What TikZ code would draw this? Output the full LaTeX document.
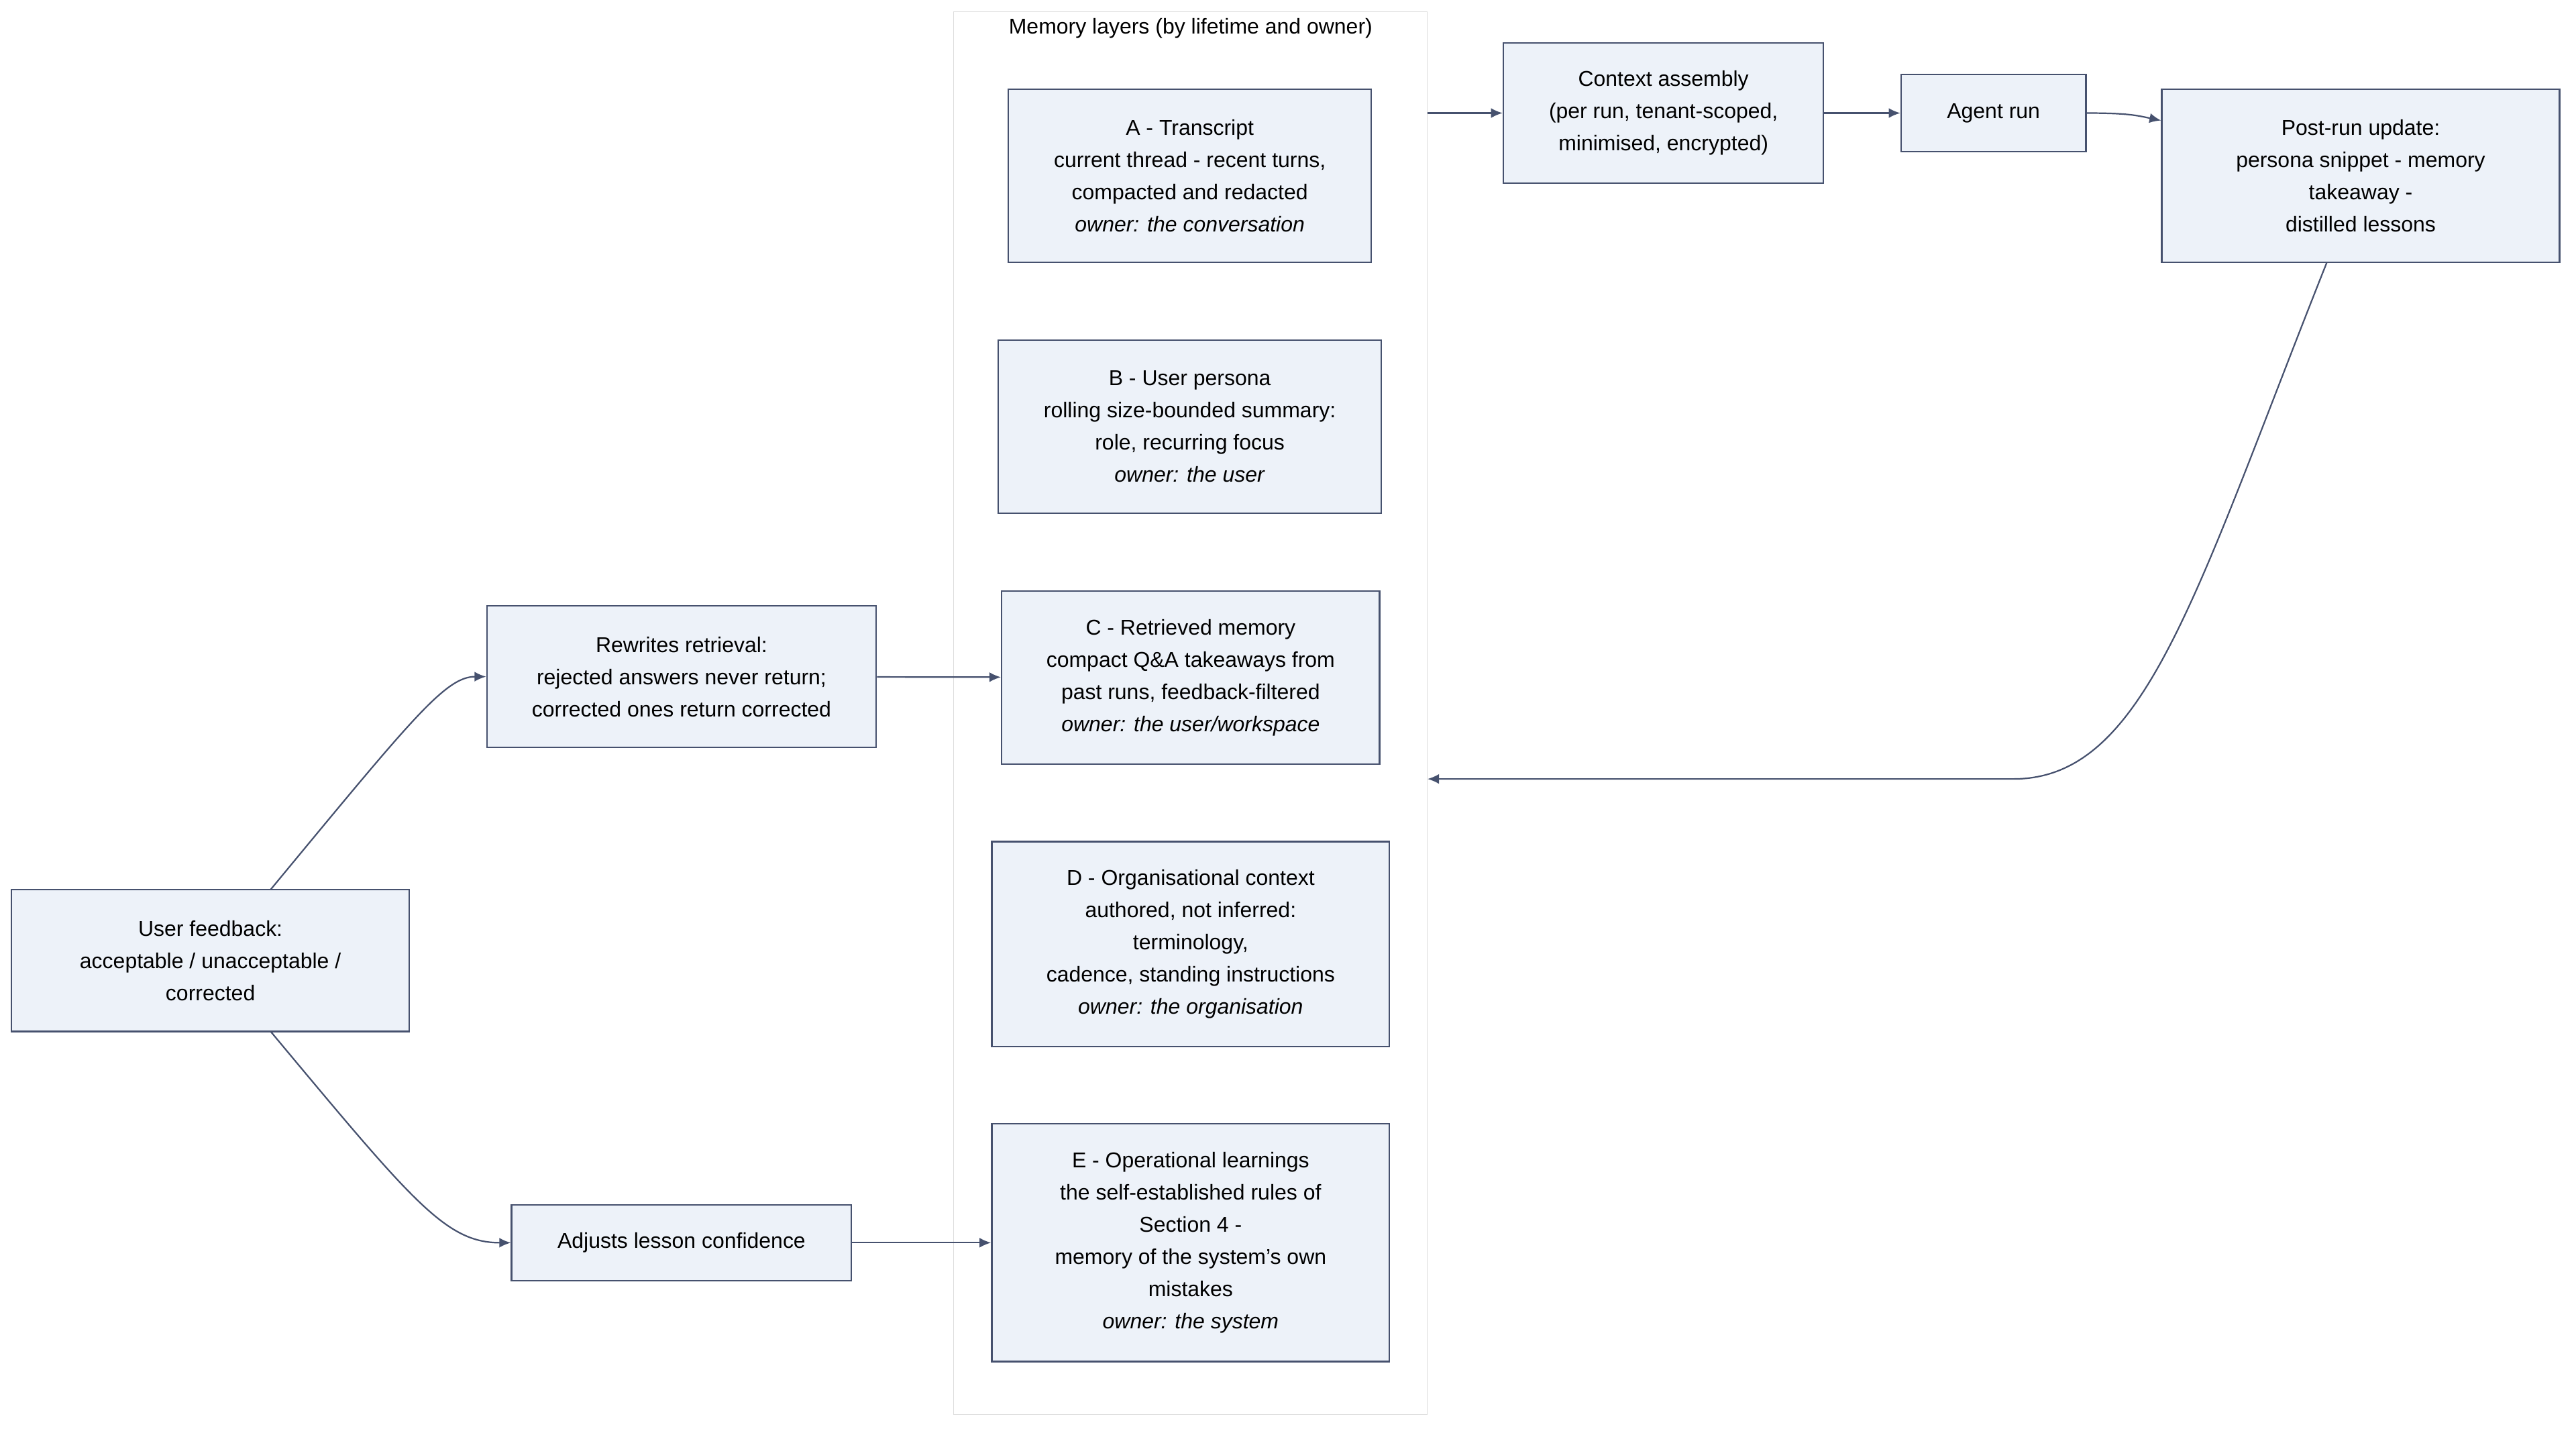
\documentclass[tikz,border=0pt]{standalone}
\usepackage{fontspec}
\setmainfont{Liberation Sans}
\usetikzlibrary{arrows.meta,positioning}
\definecolor{boxfill}{HTML}{EDF2F9}
\definecolor{boxline}{HTML}{46516E}
\definecolor{grpline}{HTML}{DDDDDD}
\tikzset{
  box/.style={draw=boxline,fill=boxfill,line width=0.9pt,align=center,inner sep=0pt,
    font=\fontsize{13}{19.5}\selectfont},
  link/.style={draw=boxline,line width=0.9pt,-{Latex[length=7pt,width=6pt]}},
}
\begin{document}
\begin{tikzpicture}[x=1pt,y=-1pt]
\useasboundingbox (0,0) rectangle (1561,868);

% memory layers group
\node (layers) at (721.5,432)[draw=grpline,fill=white,minimum width=287pt,minimum height=850pt,inner sep=0pt] {};
\node (title) at (721.5,17)[font=\fontsize{13}{16}\selectfont] {Memory layers (by lifetime and owner)};

\node (A) at (721,106.5)[box,minimum width=220pt,minimum height=105pt] {A - Transcript\\current thread - recent turns,\\compacted and redacted\\\textit{owner: the conversation}};
\node (B) at (721,258.5)[box,minimum width=232pt,minimum height=105pt] {B - User persona\\rolling size-bounded summary:\\role, recurring focus\\\textit{owner: the user}};
\node (C) at (721.5,410.5)[box,minimum width=229pt,minimum height=105pt] {C - Retrieved memory\\compact Q\&A takeaways from\\past runs, feedback-filtered\\\textit{owner: the user/workspace}};
\node (D) at (721.5,572)[box,minimum width=241pt,minimum height=124pt] {D - Organisational context\\authored, not inferred:\\terminology,\\cadence, standing instructions\\\textit{owner: the organisation}};
\node (E) at (721.5,753)[box,minimum width=241pt,minimum height=144pt] {E - Operational learnings\\the self-established rules of\\Section 4 -\\memory of the system's own\\mistakes\\\textit{owner: the system}};

\node (ctx) at (1008,68.5)[box,minimum width=194pt,minimum height=85pt] {Context assembly\\(per run, tenant-scoped,\\minimised, encrypted)};
\node (agent) at (1208,68.5)[box,minimum width=112pt,minimum height=47pt] {Agent run};
\node (post) at (1430.5,106.5)[box,minimum width=241pt,minimum height=105pt] {Post-run update:\\persona snippet - memory\\takeaway -\\distilled lessons};

\node (rewrite) at (413,410)[box,minimum width=236pt,minimum height=86pt] {Rewrites retrieval:\\rejected answers never return;\\corrected ones return corrected};
\node (feedback) at (127.5,582)[box,minimum width=241pt,minimum height=86pt] {User feedback:\\acceptable / unacceptable /\\corrected};
\node (adjust) at (413,753)[box,minimum width=206pt,minimum height=46pt] {Adjusts lesson confidence};

\coordinate (outA) at (865,68.5);
\coordinate (inC) at (865,472);

\draw [link] (outA) -- (ctx);
\draw [link] (ctx) -- (agent);
\draw [link] (agent.east) .. controls (1290,68.5) and (1295,70) .. (post.west |- 0,73);
\draw [link] (1410,159) .. controls (1330,360) and (1300,472) .. (1220,472) -- (inC);
\draw [link] (164,539) .. controls (250,435) and (270,410) .. (rewrite.west);
\draw [link] (164,625) .. controls (250,728) and (270,753) .. (adjust.west);
\draw [link] (rewrite) -- (C);
\draw [link] (adjust) -- (E);
\end{tikzpicture}
\end{document}
